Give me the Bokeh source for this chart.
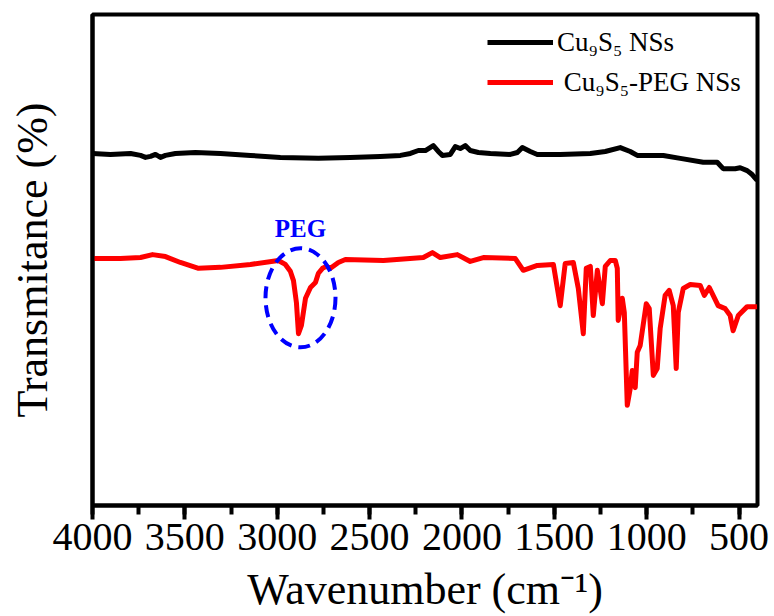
from bokeh.plotting import figure
from bokeh.models import Range1d, SingleIntervalTicker, FixedTicker, Legend, LegendItem
from bokeh.embed import file_html
from bokeh.resources import INLINE
from bokeh.core.properties import value

# FTIR spectra: wavenumber (cm^-1) and transmittance (arbitrary offset, %)
wn_bare = [4000, 3903, 3794, 3740, 3713, 3686, 3659, 3632, 3605, 3551, 3443, 3307,
           3145, 2983, 2777, 2604, 2442, 2333, 2279, 2236, 2198, 2155, 2128, 2106,
           2063, 2036, 2009, 1982, 1955, 1911, 1846, 1738, 1700, 1673, 1630, 1592,
           1468, 1305, 1224, 1143, 1089, 1051, 910, 818, 694, 618, 586, 521, 494,
           456, 429, 402]
t_bare = [71.7, 71.5, 71.7, 71.3, 70.9, 71.1, 71.5, 70.9, 71.3, 71.7, 71.9, 71.7,
          71.3, 70.9, 70.7, 70.9, 71.1, 71.3, 71.7, 72.3, 72.3, 73.3, 72.1, 71.3,
          71.5, 73.1, 72.7, 73.3, 72.3, 71.9, 71.7, 71.5, 71.9, 72.9, 72.1, 71.5,
          71.5, 71.7, 72.1, 72.9, 72.1, 71.3, 71.3, 70.7, 69.9, 69.9, 68.6, 68.6, 68.8,
          68.2, 67.4, 66.2]

wn_peg = [4000, 3849, 3740, 3675, 3605, 3524, 3426, 3307, 3145, 2994, 2956, 2929,
          2912, 2896, 2885, 2869, 2847, 2820, 2793, 2777, 2755, 2734, 2712, 2669,
          2631, 2425, 2209, 2160, 2117, 2025, 1955, 1884, 1711, 1668, 1592, 1505,
          1468, 1441, 1397, 1370, 1343, 1327, 1305, 1289, 1267, 1240, 1224, 1197,
          1170, 1159, 1154, 1132, 1121, 1105, 1089, 1078, 1062, 1051, 1035, 1002,
          986, 964, 943, 927, 900, 878, 856, 840, 829, 802, 764, 710, 688, 661,
          613, 575, 548, 532, 504, 456, 402]
t_peg = [50.3, 50.3, 50.5, 51.1, 50.7, 49.5, 48.3, 48.5, 49.1, 49.9, 49.1, 47.7,
         45.8, 41.3, 35.0, 36.7, 42.2, 44.4, 45.4, 47.3, 48.3, 48.7, 48.3, 49.5,
         50.1, 49.9, 50.5, 51.5, 50.5, 51.1, 49.7, 50.5, 50.3, 47.9, 48.9, 49.1,
         40.7, 49.3, 49.5, 44.2, 35.0, 48.3, 48.7, 38.7, 47.9, 41.1, 48.7, 49.9,
         49.9, 48.3, 37.7, 42.2, 39.3, 20.4, 23.8, 27.5, 24.0, 31.2, 32.6, 41.1,
         40.1, 26.5, 27.9, 36.0, 42.8, 43.8, 40.7, 27.9, 39.3, 44.2, 45.0, 44.8, 42.8, 44.4,
         40.7, 40.1, 38.7, 35.6, 38.7, 40.5, 40.5]

series_labels = ["Cu\u2089S\u2085 NSs", "\u00a0Cu\u2089S\u2085-PEG NSs"]

# PEG C-H stretching band annotation
peg_center = 2874
peg_label = "PEG"

FONT = "Liberation Serif"

p = figure(width=774, height=616, output_backend="svg", toolbar_location=None,
           x_range=Range1d(4000, 400), y_range=Range1d(0, 100),
           min_border_left=92, min_border_right=17, min_border_top=14,
           min_border_bottom=111, background_fill_color="white",
           border_fill_color="white")

p.xgrid.visible = False
p.ygrid.visible = False
p.outline_line_color = "black"
p.outline_line_width = 4
p.outline_line_alpha = 1

r_bare = p.line(wn_bare, t_bare, line_color="black", line_width=5, line_join="round")
r_peg = p.line(wn_peg, t_peg, line_color="#ff0000", line_width=5, line_join="round")

p.ellipse(x=[peg_center], y=[42.3], width=[379], height=[20.2], fill_color=None,
          line_color="#0000ff", line_width=4, line_dash="12 7")
p.text(x=[peg_center], y=[56.4], text=[peg_label], text_font=value(FONT),
       text_font_style="bold", text_font_size="25px", text_color="#0000ff",
       text_align="center", text_baseline="middle")

# x axis
xa = p.xaxis[0]
xa.ticker = SingleIntervalTicker(interval=500, num_minor_ticks=2)
xa.axis_label = "Wavenumber (cm\u207b\u00b9)"
xa.axis_label_text_font = FONT
xa.axis_label_text_font_style = "normal"
xa.axis_label_text_font_size = "44px"
xa.axis_label_text_color = "black"
xa.axis_label_standoff = 12
xa.major_label_text_font = FONT
xa.major_label_text_font_size = "40px"
xa.major_label_standoff = 4
xa.major_label_text_color = "black"
xa.axis_line_width = 4
xa.major_tick_line_width = 4
xa.minor_tick_line_width = 4
xa.major_tick_in = 0
xa.major_tick_out = 14
xa.minor_tick_in = 0
xa.minor_tick_out = 9

# y axis: label only, no ticks
ya = p.yaxis[0]
ya.ticker = FixedTicker(ticks=[])
ya.axis_label = "Transmitance (%)"
ya.axis_label_text_font = FONT
ya.axis_label_text_font_style = "normal"
ya.axis_label_text_font_size = "44px"
ya.axis_label_text_color = "black"
ya.axis_label_standoff = 36
ya.major_tick_line_color = None
ya.minor_tick_line_color = None
ya.axis_line_width = 4

legend = Legend(items=[LegendItem(label=series_labels[0], renderers=[r_bare]),
                       LegendItem(label=series_labels[1], renderers=[r_peg])],
                location=(395, 403))
legend.border_line_color = None
legend.background_fill_alpha = 0
legend.glyph_width = 66
legend.glyph_height = 40
legend.label_height = 40
legend.label_standoff = 4
legend.padding = 0
legend.margin = 0
legend.spacing = 0
legend.label_text_font = FONT
legend.label_text_font_size = "27px"
legend.label_text_color = "black"
p.add_layout(legend)

open("out.html", "w").write(file_html(p, INLINE))
